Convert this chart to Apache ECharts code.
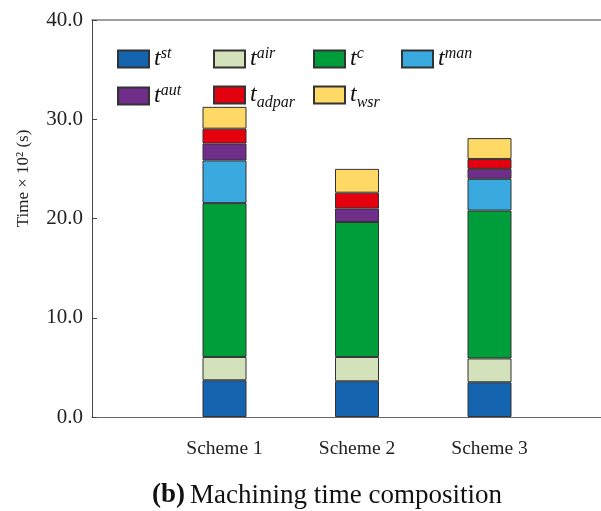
<!DOCTYPE html>
<html>
<head>
<meta charset="utf-8">
<script src="https://cdn.jsdelivr.net/npm/echarts@6/dist/echarts.min.js"></script>
<style>html,body{margin:0;padding:0;background:#fff;}#c{width:601px;height:511px;}</style>
</head>
<body>
<div id="c"></div>
<script>
const categories = ['Scheme 1', 'Scheme 2', 'Scheme 3'];
const tSt    = [3.7, 3.6, 3.5];
const tAir   = [2.35, 2.45, 2.4];
const tC     = [15.5, 13.6, 14.9];
const tMan   = [4.3, 0, 3.2];
const tAut   = [1.7, 1.35, 1.0];
const tAdpar = [1.5, 1.6, 1.0];
const tWsr   = [2.2, 2.4, 2.1];
const yTicks = [0, 10, 20, 30, 40];

// axis slots: one empty slot before and after the three schemes
const axisCats = [''].concat(categories, ['']);
const pad = arr => ['-'].concat(arr, ['-']);

const FONT = 'Liberation Serif';
const seriesDefs = [
  {name: 'st', data: tSt, color: '#1464B0', label: '{t|t}{sup|st}'},
  {name: 'air', data: tAir, color: '#D4E2BC', label: '{t|t}{sup|air}'},
  {name: 'c', data: tC, color: '#009E3B', label: '{t|t}{sup|c}'},
  {name: 'man', data: tMan, color: '#3AA9E0', label: '{t|t}{sup|man}'},
  {name: 'aut', data: tAut, color: '#702E8B', label: '{t|t}{sup|aut}'},
  {name: 'adpar', data: tAdpar, color: '#E3000F', label: '{t|t}{sub|adpar}'},
  {name: 'wsr', data: tWsr, color: '#FFD966', label: '{t|t}{sub|wsr}'}
];
const legendPos = [[112, 41], [208, 41], [308, 41], [396, 41], [112, 78], [208, 78], [308, 78]];

const rich = {
  t: {fontFamily: FONT, fontStyle: 'italic', fontSize: 24, color: '#111', lineHeight: 26, verticalAlign: 'middle'},
  sup: {fontFamily: FONT, fontStyle: 'italic', fontSize: 16, color: '#111', verticalAlign: 'top', lineHeight: 14},
  sub: {fontFamily: FONT, fontStyle: 'italic', fontSize: 16, color: '#111', verticalAlign: 'bottom', lineHeight: 14, padding: [0,0,-3,0]}
};

const legends = seriesDefs.map((s, i) => ({
  data: [s.name],
  left: legendPos[i][0], top: legendPos[i][1],
  icon: 'rect',
  itemWidth: 31, itemHeight: 17, itemGap: 4,
  formatter: () => s.label,
  textStyle: {rich: rich, color: '#111'},
  selectedMode: false
}));

const chart = echarts.init(document.getElementById('c'));
chart.setOption({
  animation: false,
  backgroundColor: '#fff',
  title: {
    text: '{b|(b)} {n|Machining time composition}',
    left: 147, top: 477,
    textStyle: {fontWeight: 'normal', rich: {
      b: {fontFamily: FONT, fontWeight: 'bold', fontSize: 27, color: '#111'},
      n: {fontFamily: FONT, fontWeight: 'normal', fontSize: 27, color: '#111'}
    }}
  },
  legend: legends,
  grid: {left: 92, right: -21, top: 20, bottom: 94, outerBoundsMode: 'none', containLabel: false},
  xAxis: [{
    type: 'category', data: axisCats, boundaryGap: false,
    axisLine: {show: true, lineStyle: {color: '#666', width: 1}},
    axisTick: {show: false},
    splitLine: {show: false},
    axisLabel: {
      interval: 0, margin: 22,
      fontFamily: FONT, fontSize: 19.5, color: '#222'
    }
  }, {
    type: 'category', data: axisCats, boundaryGap: false, position: 'top',
    axisLine: {show: true, lineStyle: {color: '#808080', width: 1.5}},
    axisTick: {show: false}, axisLabel: {show: false}, splitLine: {show: false}
  }],
  yAxis: {
    type: 'value', min: yTicks[0], max: yTicks[yTicks.length - 1], interval: 10,
    name: 'Time × 10² (s)', nameLocation: 'middle', nameGap: 60, nameRotate: 90,
    nameTextStyle: {fontFamily: FONT, fontSize: 17, color: '#222', padding: [0, 0, 0, 80]},
    axisLine: {show: true, lineStyle: {color: '#444', width: 1}},
    axisTick: {show: true, inside: true, length: 5, lineStyle: {color: '#444'}},
    splitLine: {show: false},
    axisLabel: {fontFamily: FONT, fontSize: 21, color: '#222', margin: 9, formatter: v => v.toFixed(1)}
  },
  series: seriesDefs.map(s => ({
    name: s.name, type: 'bar', stack: 'total', barWidth: 44,
    xAxisIndex: 0,
    itemStyle: {color: s.color, borderColor: '#333', borderWidth: 1},
    data: pad(s.data)
  }))
});
</script>
</body>
</html>
